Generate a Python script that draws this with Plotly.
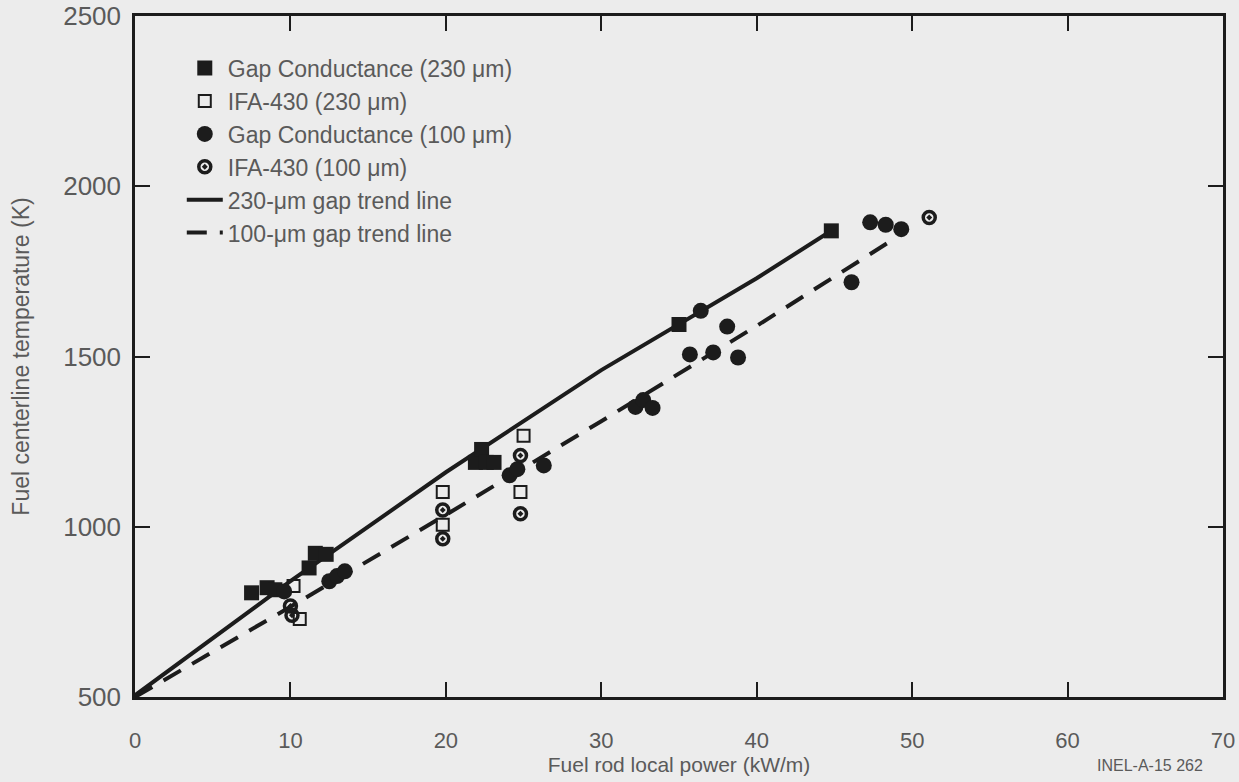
import plotly.graph_objects as go

# ---- data ----
gc230_x = [7.5, 8.5, 9.0, 11.2, 11.6, 12.3, 21.9, 22.3, 22.6, 23.1, 35.0, 44.8]
gc230_y = [806, 821, 815, 879, 922, 919, 1189, 1227, 1189, 1189, 1594, 1869]

ifa230_x = [10.2, 10.6, 19.8, 19.8, 25.0, 24.8]
ifa230_y = [826, 729, 1102, 1006, 1267, 1102]

gc100_x = [9.6, 12.5, 13.0, 13.5, 24.1, 24.6, 26.3, 32.2, 32.7, 33.3,
           35.7, 36.4, 37.2, 38.1, 38.8, 46.1, 47.3, 48.3, 49.3]
gc100_y = [810, 840, 855, 869, 1151, 1169, 1180, 1352, 1372, 1349,
           1506, 1634, 1512, 1588, 1497, 1718, 1894, 1887, 1874]

ifa100_x = [10.0, 10.1, 19.8, 19.8, 24.8, 24.8, 51.1]
ifa100_y = [767, 740, 1049, 965, 1209, 1038, 1908]

t230_x = [0, 10, 20, 30, 40, 45]
t230_y = [505, 840, 1160, 1460, 1730, 1875]

t100_x = [0, 10, 20, 30, 40, 49]
t100_y = [500, 765, 1035, 1310, 1590, 1850]

x_ticks = [0, 10, 20, 30, 40, 50, 60, 70]
y_ticks = [500, 1000, 1500, 2000, 2500]

INK = "#1c1c1c"
TXT = "#5a5a5a"
BG = "#ececec"
SANS = "Liberation Sans, Arial, Helvetica"

fig = go.Figure()

fig.add_trace(go.Scatter(
    x=t230_x, y=t230_y, mode="lines", name="230-\u03bcm gap trend line",
    line=dict(color=INK, width=4), legendrank=5))
fig.add_trace(go.Scatter(
    x=t100_x, y=t100_y, mode="lines", name="100-\u03bcm gap trend line",
    line=dict(color=INK, width=4, dash="20px,13px"), legendrank=6))

fig.add_trace(go.Scatter(
    x=gc230_x, y=gc230_y, mode="markers", name="Gap Conductance (230 \u03bcm)",
    marker=dict(symbol="square", size=15, color=INK, line=dict(width=0)),
    legendrank=1))
fig.add_trace(go.Scatter(
    x=ifa230_x, y=ifa230_y, mode="markers", name="IFA-430 (230 \u03bcm)",
    marker=dict(symbol="square-open", size=12, color=INK, line=dict(width=2, color=INK)),
    legendrank=2))
fig.add_trace(go.Scatter(
    x=gc100_x, y=gc100_y, mode="markers", name="Gap Conductance (100 \u03bcm)",
    marker=dict(symbol="circle", size=16, color=INK, line=dict(width=0)),
    legendrank=3))
fig.add_trace(go.Scatter(
    x=ifa100_x, y=ifa100_y, mode="markers", name="IFA-430 (100 \u03bcm)",
    marker=dict(symbol="circle-open-dot", size=12, color=INK, line=dict(width=3.5, color=INK)),
    legendrank=4))

fig.update_layout(
    width=1239, height=782,
    margin=dict(l=135, r=16, t=16, b=85, autoexpand=False),
    paper_bgcolor=BG, plot_bgcolor=BG,
    font=dict(family=SANS, color=TXT),
    showlegend=True,
    legend=dict(
        x=0.043, y=0.955, xanchor="left", yanchor="top",
        bgcolor="rgba(0,0,0,0)", borderwidth=0,
        font=dict(family=SANS, size=23, color=TXT),
        tracegroupgap=0, itemsizing="trace", itemwidth=36,
    ),
    xaxis=dict(
        range=[0, 70], tickvals=x_ticks, ticktext=[str(v) for v in x_ticks],
        ticks="inside", ticklen=15, tickwidth=2, tickcolor=INK,
        showline=True, linewidth=2.5, linecolor=INK, mirror="ticks",
        showgrid=False, zeroline=False, automargin=False,
        tickfont=dict(family=SANS, size=22, color=TXT),
        ticklabelstandoff=22,
        title=dict(text="Fuel rod local power (kW/m)",
                   font=dict(family=SANS, size=21, color=TXT), standoff=3),
    ),
    yaxis=dict(
        range=[500, 2500], tickvals=y_ticks, ticktext=[str(v) for v in y_ticks],
        ticks="inside", ticklen=15, tickwidth=2, tickcolor=INK,
        showline=True, linewidth=2.5, linecolor=INK, mirror="ticks",
        showgrid=False, zeroline=False, automargin=False,
        tickfont=dict(family=SANS, size=26, color=TXT),
        ticklabelstandoff=6,
        title=dict(text="Fuel centerline temperature (K)",
                   font=dict(family=SANS, size=23, color=TXT), standoff=28),
    ),
)

fig.add_annotation(
    text="INEL-A-15 262", xref="paper", yref="paper",
    x=0.983, y=-0.1, xanchor="right", yanchor="middle", showarrow=False,
    font=dict(family=SANS, size=16, color=TXT))

fig.write_html("out.html")
